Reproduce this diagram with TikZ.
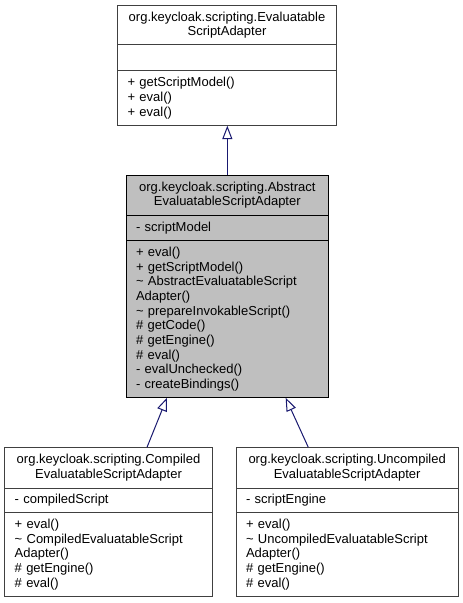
\documentclass[tikz,border=0pt]{standalone}
\usepackage{fontspec}
\setmainfont{Liberation Sans}
\usetikzlibrary{arrows.meta,calc}
\definecolor{edgecol}{HTML}{191970}
\definecolor{boxline}{HTML}{404040}
\definecolor{absfill}{HTML}{BFBFBF}
\begin{document}
\begin{tikzpicture}[x=0.75pt,y=-0.75pt,
  sec/.style={draw=boxline, line width=0.75pt, fill=white, anchor=north west,
    outer sep=0pt, inner xsep=7.5pt, inner ysep=0pt,
    font=\fontsize{9.75pt}{11pt}\selectfont},
  ttl/.style={sec, align=center},
  mem/.style={sec, align=left},
  absbox/.style={fill=absfill, draw=black},
  inherit/.style={draw=edgecol, line width=0.75pt,
    -{Triangle[open,length=10pt,width=7.5pt,fill=white]}}
]
\fill[white] (0,0) rectangle (463,603);
\useasboundingbox (0,0) rectangle (463,603);

% top class
\node[ttl, text width=149.25pt, minimum height=29.55pt] (eT) at (117.5,5.3)
  {org.keycloak.scripting.Evaluatable\\ScriptAdapter};
\node[mem, text width=149.25pt, minimum height=19.5pt] (eA) at (eT.south west) {};
\node[mem, text width=149.25pt, minimum height=41.25pt] (eM) at (eA.south west)
  {+ getScriptModel()\\+ eval()\\+ eval()};

% abstract class
\node[ttl, absbox, text width=137pt, minimum height=30pt] (aT) at (126,175)
  {org.keycloak.scripting.Abstract\\EvaluatableScriptAdapter};
\node[mem, absbox, text width=137pt, minimum height=19.3pt] (aA) at (aT.south west)
  {- scriptModel};
\node[mem, absbox, text width=137pt, minimum height=117.75pt] (aM) at (aA.south west)
  {+ eval()\\+ getScriptModel()\\\textasciitilde{} AbstractEvaluatableScript\\Adapter()\\\textasciitilde{} prepareInvokableScript()\\\# getCode()\\\# getEngine()\\\# eval()\\- evalUnchecked()\\- createBindings()};

% compiled class
\node[ttl, text width=140.7pt, minimum height=30.75pt] (cT) at (4.7,447.3)
  {org.keycloak.scripting.Compiled\\EvaluatableScriptAdapter};
\node[mem, text width=140.7pt, minimum height=18pt] (cA) at (cT.south west)
  {- compiledScript};
\node[mem, text width=140.7pt, minimum height=63.3pt] (cM) at (cA.south west)
  {+ eval()\\\textasciitilde{} CompiledEvaluatableScript\\Adapter()\\\# getEngine()\\\# eval()};

% uncompiled class
\node[ttl, text width=151.7pt, minimum height=30.75pt] (uT) at (236,447.3)
  {org.keycloak.scripting.Uncompiled\\EvaluatableScriptAdapter};
\node[mem, text width=151.7pt, minimum height=18pt] (uA) at (uT.south west)
  {- scriptEngine};
\node[mem, text width=151.7pt, minimum height=63.3pt] (uM) at (uA.south west)
  {+ eval()\\\textasciitilde{} UncompiledEvaluatableScript\\Adapter()\\\# getEngine()\\\# eval()};

% inheritance
\draw[inherit] (aT.north) -- (aT.north |- eM.south);
\draw[inherit] ([xshift=38.5*0.75pt]cT.north) -- ([xshift=-60.35*0.75pt]aM.south);
\draw[inherit] ([xshift=-38.85*0.75pt]uT.north) -- ([xshift=58.35*0.75pt]aM.south);
\end{tikzpicture}
\end{document}
